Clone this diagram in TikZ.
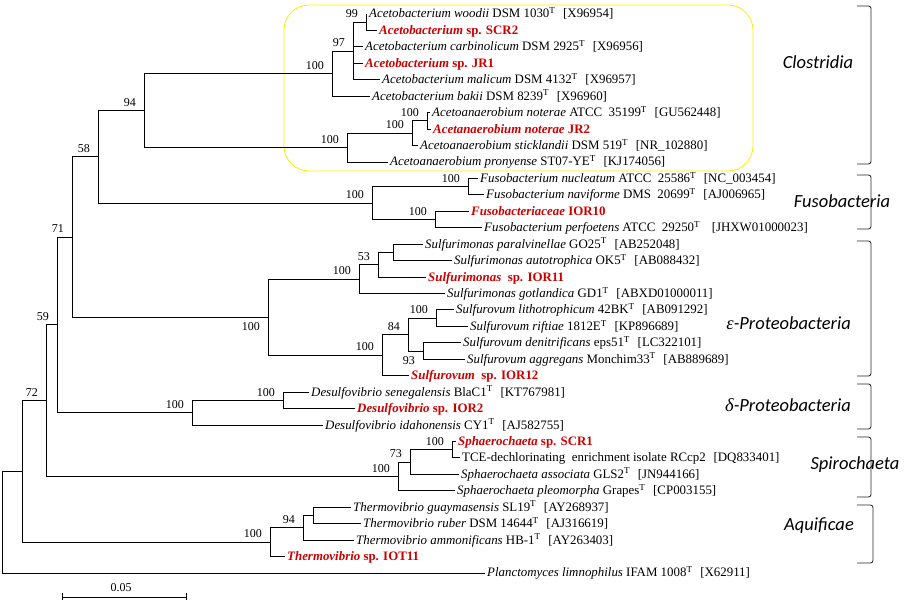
\documentclass[tikz,border=0pt]{standalone}
\usepackage{fontspec}
\setmainfont{Liberation Serif}
\newfontfamily\cladefont{Carlito}
\usetikzlibrary{calc}
\definecolor{strainred}{RGB}{204,0,0}
\definecolor{boxyellow}{RGB}{250,240,0}
\definecolor{brk}{RGB}{40,40,40}
\newcommand\Tsup{\textsuperscript{T}}
\newcommand\acc[1]{\hspace{0.6em}[#1]}
\newcommand\strain[2]{\textcolor{strainred}{\bfseries\textit{#1} #2}}
\begin{document}
\begin{tikzpicture}[x=1pt,y=-1pt,
  branch/.style={draw=black,line width=0.85pt},
  leaf/.style={anchor=west,inner ysep=0pt,inner xsep=2pt,text height=10pt,text depth=2pt,font=\fontsize{12.9}{14}\selectfont},
  bsabove/.style={anchor=south east,inner sep=0pt,font=\fontsize{12}{13}\selectfont},
  bsbelow/.style={anchor=north east,inner sep=0pt,font=\fontsize{12}{13}\selectfont},
  clade/.style={inner sep=0pt,font=\cladefont\itshape\fontsize{18.5}{20}\selectfont},
  bracket/.style={draw=brk,line width=0.85pt,rounded corners=2.5pt},
  clustbox/.style={draw=boxyellow,line width=0.8pt,rounded corners=25pt}]
\useasboundingbox (0,0) rectangle (919,604);

% highlight box
\draw[clustbox] (284,5) rectangle (753,171);

% leaves
\node[leaf] (l1) at (367,14.00) {\textit{Acetobacterium woodii} DSM 1030\Tsup\acc{X96954}};
\node[leaf] (l2) at (377,30.44) {\strain{Acetobacterium}{sp. SCR2}};
\node[leaf] (l3) at (363,46.88) {\textit{Acetobacterium carbinolicum} DSM 2925\Tsup\acc{X96956}};
\node[leaf] (l4) at (363,63.32) {\strain{Acetobacterium}{sp. JR1}};
\node[leaf] (l5) at (380,79.76) {\textit{Acetobacterium malicum} DSM 4132\Tsup\acc{X96957}};
\node[leaf] (l6) at (370,96.20) {\textit{Acetobacterium bakii} DSM 8239\Tsup\acc{X96960}};
\node[leaf] (l7) at (430,112.64) {\textit{Acetoanaerobium noterae} ATCC\ \ 35199\Tsup\acc{GU562448}};
\node[leaf] (l8) at (431,129.08) {\strain{Acetanaerobium noterae}{JR2}};
\node[leaf] (l9) at (418,145.52) {\textit{Acetoanaerobium sticklandii} DSM 519\Tsup\acc{NR\_102880}};
\node[leaf] (l10) at (388,161.96) {\textit{Acetoanaerobium pronyense} ST07-YE\Tsup\acc{KJ174056}};
\node[leaf] (l11) at (478,178.40) {\textit{Fusobacterium nucleatum} ATCC\ \ 25586\Tsup\acc{NC\_003454}};
\node[leaf] (l12) at (484,194.84) {\textit{Fusobacterium naviforme} DMS\ \ 20699\Tsup\acc{AJ006965}};
\node[leaf] (l13) at (469,211.28) {\strain{Fusobacteriaceae}{IOR10}};
\node[leaf] (l14) at (482,227.72) {\textit{Fusobacterium perfoetens} ATCC\ \ 29250\Tsup\hspace{0.9em}[JHXW01000023]};
\node[leaf] (l15) at (423,244.16) {\textit{Sulfurimonas paralvinellae} GO25\Tsup\acc{AB252048}};
\node[leaf] (l16) at (452,260.60) {\textit{Sulfurimonas autotrophica} OK5\Tsup\acc{AB088432}};
\node[leaf] (l17) at (426,277.04) {\strain{Sulfurimonas}{\ sp. IOR11}};
\node[leaf] (l18) at (445,293.48) {\textit{Sulfurimonas gotlandica} GD1\Tsup\acc{ABXD01000011}};
\node[leaf] (l19) at (454,309.92) {\textit{Sulfurovum lithotrophicum} 42BK\Tsup\acc{AB091292}};
\node[leaf] (l20) at (468,326.36) {\textit{Sulfurovum riftiae} 1812E\Tsup\acc{KP896689}};
\node[leaf] (l21) at (461,342.80) {\textit{Sulfurovum denitrificans} eps51\Tsup\acc{LC322101}};
\node[leaf] (l22) at (465,359.24) {\textit{Sulfurovum aggregans} Monchim33\Tsup\acc{AB889689}};
\node[leaf] (l23) at (409,375.68) {\strain{Sulfurovum}{\ sp. IOR12}};
\node[leaf] (l24) at (309,392.12) {\textit{Desulfovibrio senegalensis} BlaC1\Tsup\acc{KT767981}};
\node[leaf] (l25) at (355,408.56) {\strain{Desulfovibrio}{sp. IOR2}};
\node[leaf] (l26) at (323,425.00) {\textit{Desulfovibrio idahonensis} CY1\Tsup\acc{AJ582755}};
\node[leaf] (l27) at (456,441.44) {\strain{Sphaerochaeta}{sp. SCR1}};
\node[leaf] (l28) at (460,457.88) {TCE-dechlorinating\ \ enrichment isolate RCcp2\acc{DQ833401}};
\node[leaf] (l29) at (459,474.32) {\textit{Sphaerochaeta associata} GLS2\Tsup\acc{JN944166}};
\node[leaf] (l30) at (455,490.76) {\textit{Sphaerochaeta pleomorpha} Grapes\Tsup\acc{CP003155}};
\node[leaf] (l31) at (351,507.20) {\textit{Thermovibrio guaymasensis} SL19\Tsup\acc{AY268937}};
\node[leaf] (l32) at (361,523.64) {\textit{Thermovibrio ruber} DSM 14644\Tsup\acc{AJ316619}};
\node[leaf] (l33) at (354,540.08) {\textit{Thermovibrio ammonificans} HB-1\Tsup\acc{AY263403}};
\node[leaf] (l34) at (285,556.52) {\strain{Thermovibrio}{sp. IOT11}};
\node[leaf] (l35) at (485,572.96) {\textit{Planctomyces limnophilus} IFAM 1008\Tsup\acc{X62911}};

% internal nodes
\coordinate (n99) at (366,22.22);
\coordinate (n97) at (353,50.99);
\coordinate (nA100) at (332,73.60);
\coordinate (nB100) at (427,120.86);
\coordinate (nC100) at (412,133.19);
\coordinate (nD100) at (347,147.58);
\coordinate (n94) at (144,110.59);
\coordinate (nE100) at (468,186.62);
\coordinate (nF100) at (435,219.50);
\coordinate (nG100) at (372,203.06);
\coordinate (n58) at (98,156.83);
\coordinate (nSin) at (393,252.38);
\coordinate (n53) at (378,264.71);
\coordinate (nH100) at (359,279.10);
\coordinate (nI100) at (436,318.14);
\coordinate (n93) at (423,351.02);
\coordinate (n84) at (408,334.58);
\coordinate (nJ100) at (382,355.13);
\coordinate (nK100) at (268,317.12);
\coordinate (n71) at (72,236.98);
\coordinate (nL100) at (283,400.34);
\coordinate (nM100) at (192,412.67);
\coordinate (n59) at (57,324.83);
\coordinate (nN100) at (452,449.66);
\coordinate (n73) at (410,461.99);
\coordinate (nO100) at (398,476.38);
\coordinate (n72) at (46,400.61);
\coordinate (nTin) at (313,515.42);
\coordinate (n94b) at (303,527.75);
\coordinate (nP100) at (270,542.14);
\coordinate (n22) at (22,471.38);
\coordinate (root) at (2,522.17);

% branches between internal nodes
\foreach \p/\c in {root/n22, n22/n72, n22/nP100, n72/n59, n72/nO100, n59/n71, n59/nM100,
  n71/n58, n71/nK100, n58/n94, n58/nG100, n94/nA100, n94/nD100, nA100/n97, n97/n99,
  nD100/nC100, nC100/nB100, nG100/nE100, nG100/nF100, nK100/nH100, nK100/nJ100,
  nH100/n53, n53/nSin, nJ100/n84, n84/nI100, n84/n93, nM100/nL100, nO100/n73,
  n73/nN100, nP100/n94b, n94b/nTin}
  \draw[branch] (\p) |- (\c);
% branches to leaves
\foreach \p/\c in {root/l35, nA100/l6, n97/l3, n97/l4, n97/l5, n99/l1, n99/l2,
  nD100/l10, nC100/l9, nB100/l7, nB100/l8, nE100/l11, nE100/l12, nF100/l13, nF100/l14,
  nH100/l18, n53/l17, nSin/l15, nSin/l16, nJ100/l23, nI100/l19, nI100/l20, n93/l21, n93/l22,
  nM100/l26, nL100/l24, nL100/l25, nO100/l30, n73/l29, nN100/l27, nN100/l28,
  nP100/l34, n94b/l33, nTin/l31, nTin/l32}
  \draw[branch] (\p) |- (\c.west);

% bootstrap values
\foreach \n/\v in {n99/99, n97/97, nA100/100, nB100/100, nC100/100, nD100/100, n94/94,
  nE100/100, nF100/100, nG100/100, n58/58, n53/53, nH100/100, nI100/100, n84/84,
  nJ100/100, n71/71, nL100/100, nM100/100, n59/59, nN100/100, n73/73, nO100/100,
  n72/72, n94b/94, nP100/100}
  \node[bsabove] (b\n) at ($(\n)+(-8,-4)$) {\v};
\foreach \n/\v in {nK100/100, n93/93}
  \node[bsbelow] (b\n) at ($(\n)+(-8,5)$) {\v};

% clade brackets
\draw[bracket] (857,6) -- (871,6) -- (871,164) -- (857,164);
\draw[bracket] (857,175) -- (871,175) -- (871,229) -- (857,229);
\draw[bracket] (857,241) -- (871,241) -- (871,376) -- (857,376);
\draw[bracket] (857,384) -- (871,384) -- (871,429) -- (857,429);
\draw[bracket] (857,437) -- (871,437) -- (871,497) -- (857,497);
\draw[bracket] (857,505) -- (873,505) -- (873,563) -- (857,563);

\node[clade] (cClos) at (818,62) {Clostridia};
\node[clade] (cFuso) at (842,201) {Fusobacteria};
\node[clade,anchor=east] (cEps) at (851,323) {{\rmfamily ε}-Proteobacteria};
\node[clade,anchor=east] (cDel) at (851,405) {{\rmfamily δ}-Proteobacteria};
\node[clade] (cSpi) at (855,465) {Spirochaeta};
\node[clade] (cAqu) at (819,526) {Aquificae};

% scale bar
\coordinate (sb1) at (62,597);
\coordinate (sb2) at (186,597);
\draw[branch] (sb1) -- (sb2);
\draw[branch] ($(sb1)+(0,-4)$) -- ($(sb1)+(0,3)$);
\draw[branch] ($(sb2)+(0,-4)$) -- ($(sb2)+(0,3)$);
\node[inner sep=0pt,font=\fontsize{12}{13}\selectfont] (sblab) at (121,588) {0.05};
\end{tikzpicture}
\end{document}
